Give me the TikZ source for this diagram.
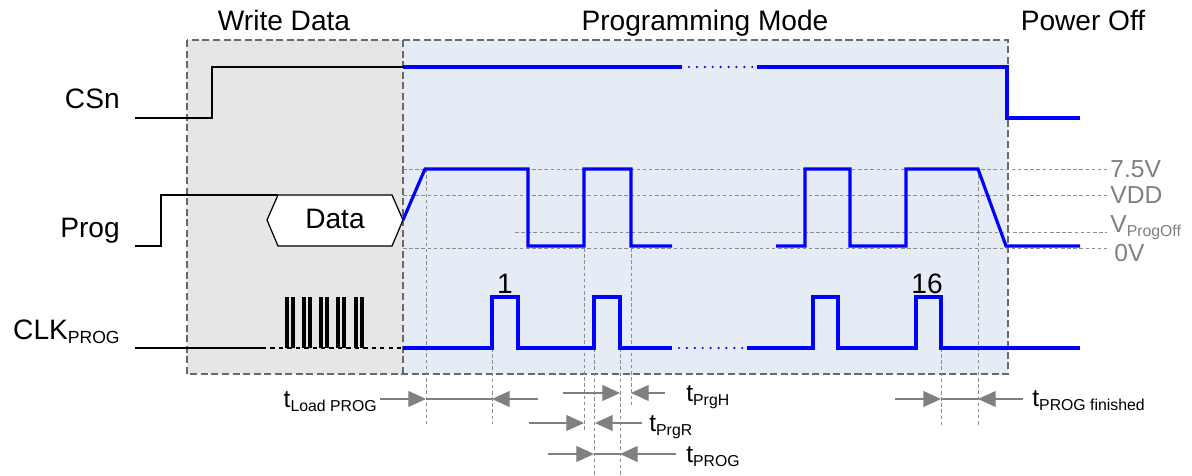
\documentclass[tikz,border=0pt]{standalone}
\usepackage{fontspec}
\setmainfont{Liberation Sans}
\usetikzlibrary{arrows.meta,calc}
\definecolor{wrgray}{RGB}{230,230,230}
\definecolor{pmblue}{RGB}{230,236,246}
\definecolor{guidegray}{RGB}{140,140,140}
\definecolor{boxgray}{RGB}{105,105,105}
\definecolor{arrgray}{RGB}{128,128,128}
\newcommand{\lowsub}[2][9pt]{\raisebox{-2.5pt}{\fontsize{#1}{#1}\selectfont #2}}

\begin{document}
\begin{tikzpicture}[x=0.02cm,y=-0.02cm,
  every node/.style={inner sep=0pt},
  title/.style={font=\fontsize{16pt}{18pt}\selectfont,anchor=base},
  signame/.style={font=\fontsize{16pt}{18pt}\selectfont,anchor=base east},
  level/.style={font=\fontsize{14pt}{16pt}\selectfont,text=arrgray,anchor=base west},
  tlabel/.style={font=\fontsize{14pt}{16pt}\selectfont,anchor=base west},
  phase/.style={draw=boxgray,line width=0.8pt,dash pattern=on 4pt off 2pt},
  guide/.style={draw=guidegray,line width=0.5pt,dash pattern=on 2pt off 1.5pt},
  wave/.style={blue,line width=1.8pt},
  wavedots/.style={blue,line width=1.4pt,line cap=round,dash pattern=on 0pt off 4.5pt},
  oldwave/.style={black,line width=0.7pt},
  timearr/.style={draw=arrgray,line width=0.6pt},
  headr/.style={-{Triangle[length=10pt,width=9pt]}}]
\useasboundingbox (0,0) rectangle (1192,476);

\fill[wrgray] (187,40) rectangle (403,374);
\fill[pmblue] (403,40) rectangle (1008,374);
\draw[phase] (187,40) rectangle (1008,374);
\draw[phase] (403,40) -- (403,374);

\node[title] (wd) at (284,31) {Write Data};
\node[title] (pm) at (705,31) {Programming Mode};
\node[title] (po) at (1083,31) {Power Off};

\node[signame] (csn) at (120,109) {CSn};
\node[signame] (prog) at (120,237) {Prog};
\node[signame] (clk) at (120,339) {CLK\lowsub[10pt]{PROG}};

\draw[guide] (403,169) -- (1107,169);
\draw[guide] (403,195) -- (1107,195);
\draw[guide] (515,232) -- (1107,232);
\draw[guide] (403,248) -- (1107,248);
\node[level] (v75) at (1110,177) {7.5V};
\node[level] (vdd) at (1110,203) {VDD};
\node[level] (voff) at (1110,232) {V\lowsub{ProgOff}};
\node[level] (v0) at (1114,261) {0V};

\draw[guide] (426,169) -- (426,424);
\draw[guide] (492,348) -- (492,424);
\draw[guide] (584,248) -- (584,430);
\draw[guide] (594,348) -- (594,476);
\draw[guide] (620,348) -- (620,476);
\draw[guide] (631,248) -- (631,405);
\draw[guide] (941,348) -- (941,425);
\draw[guide] (978,169) -- (978,425);

\draw[oldwave] (135,118) -- (212,118) -- (212,67) -- (403,67);
\draw[wave] (403,67) -- (682,67);
\draw[wavedots] (689,67) -- (756,67);
\draw[wave] (757,67) -- (1007,67) -- (1007,118) -- (1080,118);

\draw[oldwave] (135,246) -- (161,246) -- (161,195) -- (278,195);
\draw[oldwave,fill=white] (267,220) -- (278,195) -- (392,195) -- (403,220) -- (392,246) -- (278,246) -- cycle;
\node[title] (data) at (335,228) {Data};
\draw[wave] (403,220) -- (425,169) -- (528,169) -- (528,246) -- (584,246) -- (584,169) -- (631,169) -- (631,246) -- (672,246);
\draw[wave] (776,246) -- (805,246) -- (805,169) -- (850,169) -- (850,246) -- (906,246) -- (906,169) -- (978,169) -- (1006,246) -- (1080,246);

\draw[oldwave] (135,348) -- (262,348);
\draw[oldwave,dash pattern=on 2.5pt off 2.3pt] (262,348) -- (403,348);
\foreach \x in {287,304,321,338,356}
  \draw[black,line width=1.8pt] (\x,297) -- (\x,348) (\x+6,297) -- (\x+6,348);
\draw[wave] (403,348) -- (492,348) -- (492,297) -- (518,297) -- (518,348) -- (594,348) -- (594,297) -- (620,297) -- (620,348) -- (672,348);
\draw[wavedots] (679,348) -- (744,348);
\draw[wave] (747,348) -- (813,348) -- (813,297) -- (838,297) -- (838,348) -- (916,348) -- (916,297) -- (941,297) -- (941,348) -- (1080,348);
\node[title] (n1) at (505,293) {1};
\node[title] (n16) at (927,293) {16};

\node[tlabel,anchor=base east] (tload) at (377,407) {t\lowsub{Load PROG}};
\draw[timearr,headr] (380,399) -- (426,399);
\draw[timearr] (426,399) -- (492,399);
\draw[timearr,headr] (538,399) -- (492,399);

\node[tlabel] (tprgh) at (686,401) {t\lowsub{PrgH}};
\draw[timearr,headr] (563,393) -- (620,393);
\draw[timearr,headr] (665,393) -- (631,393);

\node[tlabel] (tprgr) at (649,431) {t\lowsub{PrgR}};
\draw[timearr,headr] (529,423) -- (584,423);
\draw[timearr,headr] (642,423) -- (595,423);

\node[tlabel] (tprog) at (686,462) {t\lowsub{PROG}};
\draw[timearr,headr] (548,454) -- (594,454);
\draw[timearr] (594,454) -- (620,454);
\draw[timearr,headr] (676,454) -- (620,454);

\node[tlabel] (tfin) at (1032,406) {t\lowsub{PROG finished}};
\draw[timearr,headr] (895,399) -- (941,399);
\draw[timearr] (941,399) -- (978,399);
\draw[timearr,headr] (1023,399) -- (978,399);
\end{tikzpicture}
\end{document}
